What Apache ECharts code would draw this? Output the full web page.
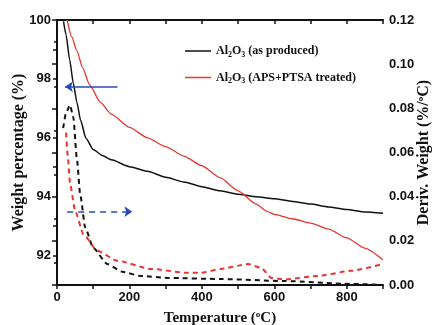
<!DOCTYPE html>
<html>
<head>
<meta charset="utf-8">
<script src="https://cdn.jsdelivr.net/npm/echarts@6/dist/echarts.min.js"></script>
<style>
  html, body { margin: 0; padding: 0; background: #fff; }
  #chart { width: 436px; height: 325px; }
</style>
</head>
<body>
<div id="chart"></div>
<script>
// weight loss curves (left axis, %)
const tempAsProduced = [18, 25, 35, 45, 55, 65, 80, 100, 125, 150, 200, 250, 300, 350, 400, 450, 500, 550, 600, 650, 700, 750, 800, 850, 900];
const weightAsProduced = [99.95, 99.5, 98.65, 97.85, 97.2, 96.6, 95.98, 95.6, 95.4, 95.25, 95.02, 94.86, 94.66, 94.5, 94.34, 94.2, 94.08, 94.0, 93.93, 93.84, 93.75, 93.65, 93.56, 93.48, 93.44];

const tempTreated = [28, 40, 55, 70, 90, 120, 150, 200, 250, 300, 350, 400, 450, 500, 550, 580, 600, 650, 700, 750, 800, 850, 900];
const weightTreated = [100, 99.45, 98.95, 98.4, 97.8, 97.2, 96.8, 96.35, 96.0, 95.7, 95.38, 95.05, 94.65, 94.2, 93.75, 93.5, 93.4, 93.25, 93.1, 92.9, 92.6, 92.25, 91.85];

// derivative curves (right axis, %/°C)
const tempDerivAsProduced = [17, 25, 36, 45, 55, 64, 78, 100, 139, 180, 231, 305, 453, 628, 811, 900];
const derivAsProduced = [0.071, 0.078, 0.0815, 0.076, 0.057, 0.041, 0.026, 0.0168, 0.0095, 0.006, 0.0041, 0.0032, 0.0027, 0.0018, 0.0005, 0.0];

const tempDerivTreated = [25, 30, 36, 50, 73, 111, 167, 258, 361, 397, 453, 528, 564, 592, 628, 720, 811, 900];
const derivTreated = [0.069, 0.058, 0.046, 0.0336, 0.023, 0.0155, 0.011, 0.0073, 0.0055, 0.0055, 0.0073, 0.0095, 0.0077, 0.0032, 0.0025, 0.0041, 0.0064, 0.0095];

// arrows pointing at the axis each curve pair belongs to: [from, to]
const arrowLeft = [[167, 97.73], [22, 97.73]];
const arrowRight = [[28, 0.0332], [208, 0.0332]];

const legendNames = ['Al2O3 (as produced)', 'Al2O3 (APS+PTSA treated)'];

const zip = (xs, ys) => xs.map((x, i) => [x, ys[i]]);

const chart = echarts.init(document.getElementById('chart'));

const labelFont = { color: '#111', fontFamily: 'Liberation Sans', fontWeight: 'bold', fontSize: 13 };
const titleFont = { color: '#111', fontFamily: 'Liberation Serif', fontWeight: 'bold', fontSize: 15 };
const yTitleFont = { ...titleFont, fontSize: 16 };
const axisLine = { show: true, lineStyle: { color: '#111', width: 2 } };
const degRich = (font) => ({
  t: { ...font },
  u: { ...font, fontSize: 9, padding: [0, 0, 7, 0] }
});

chart.setOption({
  backgroundColor: '#fff',
  animation: false,
  grid: { left: 57, right: 53, top: 20, bottom: 40, outerBoundsMode: 'none' },
  legend: {
    data: legendNames.map((n) => ({ name: n, icon: 'rect' })),
    orient: 'vertical',
    left: 180,
    top: 40,
    itemWidth: 26,
    itemHeight: 1.5,
    itemGap: 13,
    formatter: (name) => {
      const rest = name.replace('Al2O3', '');
      return '{t|Al}{s|2}{t|O}{s|3}{t|' + rest + '}';
    },
    textStyle: {
      rich: {
        t: { fontFamily: 'Liberation Serif', fontWeight: 'bold', fontSize: 12, color: '#111' },
        s: { fontFamily: 'Liberation Serif', fontWeight: 'bold', fontSize: 8, color: '#111', padding: [7, 0, 0, 0] }
      }
    }
  },
  xAxis: [
    {
      type: 'value', min: 0, max: 900, interval: 100,
      name: '{t|Temperature (}{u|o}{t|C)}',
      nameLocation: 'middle', nameGap: 25, nameMoveOverlap: false,
      nameTextStyle: { rich: degRich(titleFont) },
      axisLine,
      axisTick: { inside: false, length: 4, lineStyle: { color: '#111', width: 1.5 } },
      axisLabel: { ...labelFont, margin: 6, formatter: (v) => (v % 200 === 0 ? v : '') },
      splitLine: { show: false }
    },
    {
      type: 'value', position: 'top', min: 0, max: 900, interval: 100,
      axisLine,
      axisTick: { inside: true, length: 4, lineStyle: { color: '#111', width: 1.5 } },
      axisLabel: { show: false },
      splitLine: { show: false }
    }
  ],
  yAxis: [
    {
      type: 'value', min: 91, max: 100, interval: 1,
      name: 'Weight percentage (%)',
      nameLocation: 'middle', nameGap: 30, nameRotate: 90, nameMoveOverlap: false,
      nameTextStyle: yTitleFont,
      axisLine,
      axisTick: { inside: false, length: 4, lineStyle: { color: '#111', width: 1.5 } },
      axisLabel: { ...labelFont, margin: 6, formatter: (v) => (v % 2 === 0 ? v : '') },
      splitLine: { show: false }
    },
    {
      type: 'value', position: 'right', min: 0, max: 0.12, interval: 0.02,
      name: '{t|Deriv. Weight (%/}{u|o}{t|C)}',
      nameLocation: 'middle', nameGap: 33, nameRotate: 90, nameMoveOverlap: false,
      nameTextStyle: { rich: degRich(yTitleFont) },
      axisLine,
      axisTick: { inside: true, length: 5, lineStyle: { color: '#111', width: 1.5 } },
      minorTick: { show: true, splitNumber: 2, length: 3, lineStyle: { color: '#111', width: 1.5 } },
      axisLabel: { ...labelFont, margin: 6, formatter: (v) => v.toFixed(2) },
      splitLine: { show: false }
    }
  ],
  series: [
    {
      name: legendNames[0], type: 'line', yAxisIndex: 0,
      data: zip(tempAsProduced, weightAsProduced),
      smooth: 0.2, smoothMonotone: 'x', symbol: 'none',
      lineStyle: { color: '#111', width: 1.5 },
      itemStyle: { color: '#111' },
      markLine: {
        silent: true, symbol: ['none', 'arrow'], symbolSize: [8, 8],
        label: { show: false },
        lineStyle: { color: '#2b48b8', width: 1.5, type: 'solid' },
        data: [[{ coord: arrowLeft[0] }, { coord: arrowLeft[1] }]]
      }
    },
    {
      name: legendNames[1], type: 'line', yAxisIndex: 0,
      data: zip(tempTreated, weightTreated),
      smooth: 0.2, smoothMonotone: 'x', symbol: 'none',
      lineStyle: { color: '#e8352e', width: 1.3 },
      itemStyle: { color: '#e8352e' }
    },
    {
      name: 'deriv as produced', type: 'line', yAxisIndex: 1,
      data: zip(tempDerivAsProduced, derivAsProduced),
      smooth: 0.2, smoothMonotone: 'x', symbol: 'none',
      lineStyle: { color: '#111', width: 2, type: [5, 4] },
      markLine: {
        silent: true, symbol: ['none', 'arrow'], symbolSize: [8, 8],
        label: { show: false },
        lineStyle: { color: '#2b48b8', width: 1.5, type: [6, 5] },
        data: [[{ coord: arrowRight[0] }, { coord: arrowRight[1] }]]
      }
    },
    {
      name: 'deriv treated', type: 'line', yAxisIndex: 1,
      data: zip(tempDerivTreated, derivTreated),
      smooth: 0.2, smoothMonotone: 'x', symbol: 'none',
      lineStyle: { color: '#e8352e', width: 2, type: [5, 4] }
    }
  ]
});
</script>
</body>
</html>
